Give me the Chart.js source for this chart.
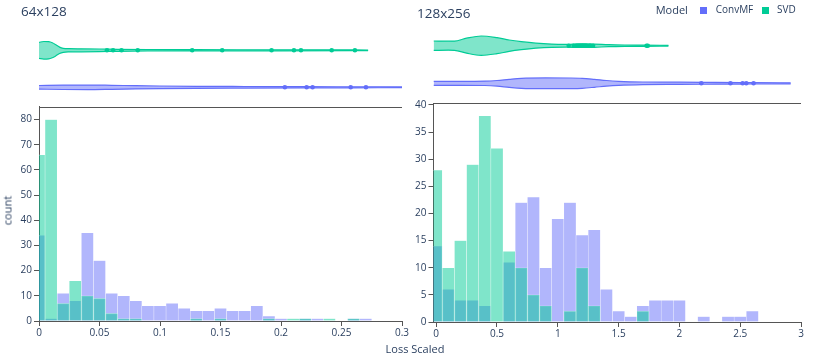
<!DOCTYPE html>
<html><head><meta charset="utf-8">
<script src="https://cdn.jsdelivr.net/npm/chart.js@4/dist/chart.umd.min.js"></script>
<style>
html,body{margin:0;padding:0;background:#fff;}
#wrap{position:relative;width:830px;height:357px;overflow:hidden;font-family:'Open Sans',sans-serif;color:#2a3f5f;}
canvas{position:absolute;}
.t{position:absolute;white-space:nowrap;line-height:1;}
.sq{position:absolute;width:7px;height:7px;}
</style></head><body>
<div id="wrap">
  <canvas id="v1" width="420" height="100" style="left:0;top:0"></canvas>
  <canvas id="v2" width="430" height="100" style="left:400px;top:0"></canvas>
  <canvas id="h1" width="420" height="357" style="left:0;top:0"></canvas>
  <canvas id="h2" width="430" height="357" style="left:400px;top:0"></canvas>
  <div class="t" style="left:21px;top:4.7px;font-size:13.5px">64x128</div>
  <div class="t" style="left:417px;top:7px;font-size:13.5px">128x256</div>
  <div class="t" style="left:655.7px;top:4.2px;font-size:11px">Model</div>
  <div class="sq" style="left:700px;top:6.7px;background:#636efa"></div>
  <div class="t" style="left:715.7px;top:3.8px;font-size:10px">ConvMF</div>
  <div class="sq" style="left:762px;top:6.7px;background:#00cc96"></div>
  <div class="t" style="left:777px;top:3.8px;font-size:10px">SVD</div>
  <div class="t" style="left:315px;width:200px;text-align:center;top:343.2px;font-size:11px">Loss Scaled</div>
  <div class="t" style="left:-13px;top:204.5px;width:40px;text-align:center;font-size:11px;transform:rotate(-90deg)">count</div>
</div>
<script>
// ---------- DATA ----------
const binCenters64 = [0,0.01,0.02,0.03,0.04,0.05,0.06,0.07,0.08,0.09,0.1,0.11,0.12,0.13,0.14,0.15,0.16,0.17,0.18,0.19,0.2,0.21,0.22,0.23,0.24,0.25,0.26,0.27];
const convmf64 = [34,1,11,8,35,24,11,10,8,6,6,7,5,4,4,5,4,4,6,2,1,0,1,1,0,0,1,1];
const svd64    = [66,80,7,16,10,9,3,1,1,0,0,0,0,1,0,1,0,0,0,1,0,1,1,0,1,0,1,0];

const binCenters128 = [0,0.1,0.2,0.3,0.4,0.5,0.6,0.7,0.8,0.9,1,1.1,1.2,1.3,1.4,1.5,1.6,1.7,1.8,1.9,2,2.1,2.2,2.3,2.4,2.5,2.6];
const convmf128 = [14,6,4,4,3,0,11,22,23,10,19,22,16,17,6,2,1,3,4,4,4,0,1,0,1,1,2];
const svd128    = [28,10,15,29,38,32,13,10,5,3,0,2,10,3,0,0,0,2,0,0,0,0,0,0,0,0,0];

const xTicks64 = [0,0.05,0.1,0.15,0.2,0.25,0.3];
const xTicks128 = [0,0.5,1,1.5,2,2.5,3];

// violin density profiles (x positions and density half-width)
const svd64ViolinX = [0,0.004,0.008,0.011,0.014,0.017,0.02,0.025,0.035,0.05,0.065,0.09,0.13,0.2,0.272];
const svd64Density = [8.0,8.8,8.6,7.5,5.5,3.2,2.0,1.6,1.5,1.3,1.0,0.7,0.6,0.5,0.3];
const convmf64ViolinX = [0,0.02,0.04,0.06,0.08,0.1,0.13,0.17,0.22,0.26,0.3];
const convmf64Density = [1.8,2.2,2.3,2.0,1.6,1.3,1.0,0.8,0.6,0.5,0.4];
const svd64Outliers = [0.0562,0.0612,0.0682,0.0816,0.1266,0.1514,0.1922,0.2107,0.2165,0.2419,0.2611];
const convmf64Outliers = [0.2032,0.2212,0.2261,0.2576,0.2702];

const svd128ViolinX = [-0.022,0.1,0.15,0.25,0.37,0.5,0.6,0.7,0.82,0.95,1.07,1.2,1.3,1.42,1.55,1.7,1.91];
const svd128Density = [4.7,4.5,4.6,7.5,9.7,8,5.7,4,2.5,1.6,1.4,1.8,1.6,1,0.7,0.6,0.4];
const convmf128ViolinX = [-0.022,0.2,0.4,0.5,0.6,0.7,0.9,1.1,1.2,1.3,1.4,1.5,1.7,2.0,2.3,2.6,2.915];
const convmf128Density = [2,2,2.2,2.8,4,5,5.4,5.3,5,4,2.8,2,1.3,1.1,0.9,0.7,0.5];
const svd128Outliers = [1.09,1.13,1.15,1.16,1.17,1.18,1.19,1.2,1.21,1.22,1.23,1.24,1.26,1.27,1.29,1.73,1.74];
const convmf128Outliers = [2.18,2.42,2.52,2.55,2.61];

// ---------- STYLE ----------
const BLUE = '#636efa', TEAL = '#00cc96';
const BLUE_A = 'rgba(99,110,250,0.5)', TEAL_A = 'rgba(0,204,150,0.5)';
const AXIS = '#555', TXT = '#2a3f5f', FONT = 'Open Sans';

const topLine = {id:'topLine', afterDraw(c){const a=c.chartArea,ctx=c.ctx;ctx.save();ctx.strokeStyle=AXIS;ctx.lineWidth=1;ctx.beginPath();ctx.moveTo(a.left,Math.round(a.top)+0.5);ctx.lineTo(a.right,Math.round(a.top)+0.5);ctx.stroke();ctx.restore();}};

function fmt(v){return String(+(+v).toFixed(3));}

function histChart(id, centers, conv, svd, xr, xticks, ymax, ystep, pad, yW){
  const mk = (vals)=>centers.map((c,i)=>({x:c,y:vals[i]}));
  new Chart(document.getElementById(id), {
    type:'bar',
    data:{datasets:[
      {label:'ConvMF',data:mk(conv),backgroundColor:BLUE_A,borderColor:'rgba(255,255,255,0.5)',borderWidth:0.5,order:2,grouped:false,barPercentage:1,categoryPercentage:1},
      {label:'SVD',data:mk(svd),backgroundColor:TEAL_A,borderColor:'rgba(255,255,255,0.5)',borderWidth:0.5,order:1,grouped:false,barPercentage:1,categoryPercentage:1}
    ]},
    options:{
      responsive:false,animation:false,devicePixelRatio:1,
      layout:{padding:pad,autoPadding:false},
      plugins:{legend:{display:false},tooltip:{enabled:false}},
      scales:{
        x:{type:'linear',min:xr[0],max:xr[1],offset:false,
           afterBuildTicks:s=>{s.ticks=xticks.map(v=>({value:v}));},
           grid:{display:true,offset:false,drawOnChartArea:false,drawTicks:true,tickLength:5,color:AXIS},
           border:{display:true,color:AXIS},
           ticks:{autoSkip:false,maxRotation:0,padding:1,color:TXT,font:{family:FONT,size:10},callback:fmt},
           afterFit:s=>{s.height=20;}},
        y:{type:'linear',min:0,max:ymax,
           grid:{display:true,drawOnChartArea:false,drawTicks:true,tickLength:5,color:AXIS},
           border:{display:true,color:AXIS},
           ticks:{stepSize:ystep,includeBounds:false,padding:2,color:TXT,font:{family:FONT,size:10}},
           afterFit:s=>{s.width=yW;}}
      }
    },
    plugins:[topLine]
  });
}

function violinChart(id, xr, pad, violins){
  const ds=[];
  violins.forEach(v=>{
    ds.push({data:v.x.map((x,i)=>({x,y:v.c-v.d[i]})),borderColor:v.line,borderWidth:1.2,pointRadius:0,fill:false,cubicInterpolationMode:'monotone'});
    ds.push({data:v.x.map((x,i)=>({x,y:v.c+v.d[i]})),borderColor:v.line,borderWidth:1.2,pointRadius:0,fill:'-1',backgroundColor:v.fill,cubicInterpolationMode:'monotone'});
    ds.push({data:v.pts.map(x=>({x,y:v.c})),showLine:false,pointRadius:2.3,pointBackgroundColor:v.line,pointBorderWidth:0,borderColor:v.line});
  });
  new Chart(document.getElementById(id), {
    type:'line',
    data:{datasets:ds},
    options:{
      responsive:false,animation:false,devicePixelRatio:1,
      layout:{padding:pad,autoPadding:false},
      plugins:{legend:{display:false},tooltip:{enabled:false}},
      scales:{
        x:{type:'linear',min:xr[0],max:xr[1],display:false},
        y:{type:'linear',min:0,max:100,reverse:true,display:false}
      }
    }
  });
}

histChart('h1', binCenters64, convmf64, svd64, [0,0.3], xTicks64, 85.1, 10, {left:4,right:18,top:106.7,bottom:16}, 35);
histChart('h2', binCenters128, convmf128, svd128, [-0.022,3], xTicks128, 40.3, 5, {left:3.5,right:29,top:103.3,bottom:15}, 30);

violinChart('v1', [0,0.3], {left:39,right:18,top:0,bottom:0}, [
  {x:convmf64ViolinX,d:convmf64Density,pts:convmf64Outliers,c:87.3,line:BLUE,fill:BLUE_A},
  {x:svd64ViolinX,d:svd64Density,pts:svd64Outliers,c:50.3,line:TEAL,fill:TEAL_A}
]);
violinChart('v2', [-0.022,3], {left:33.5,right:29,top:0,bottom:0}, [
  {x:convmf128ViolinX,d:convmf128Density,pts:convmf128Outliers,c:83.3,line:BLUE,fill:BLUE_A},
  {x:svd128ViolinX,d:svd128Density,pts:svd128Outliers,c:45.7,line:TEAL,fill:TEAL_A}
]);
</script>
</body></html>
